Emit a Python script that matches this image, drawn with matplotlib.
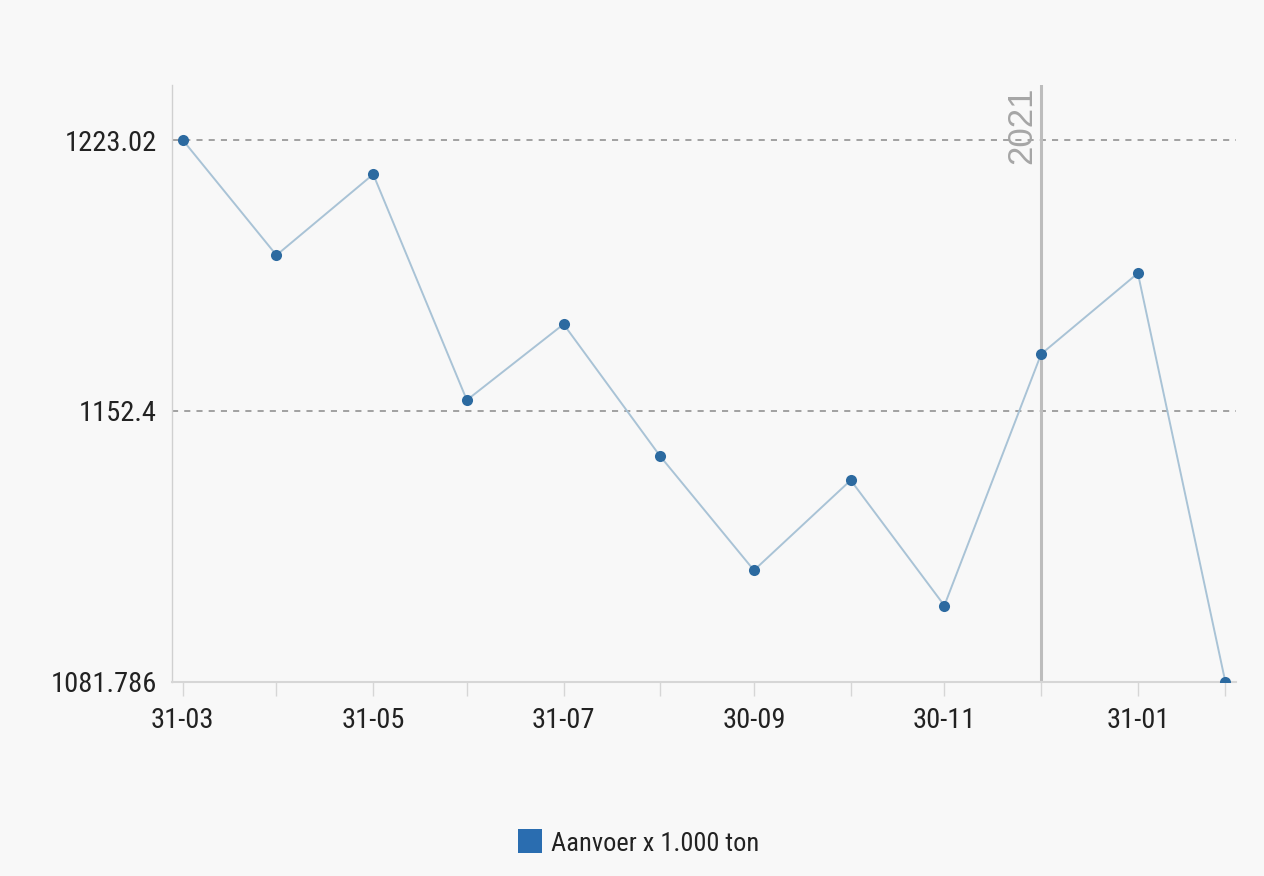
import datetime as dt

import matplotlib
matplotlib.use("Agg")
import matplotlib.pyplot as plt
from matplotlib.lines import Line2D
from matplotlib import font_manager

# data (Aanvoer x 1.000 ton, end of month)
DATES = [
    "2020-03-31", "2020-04-30", "2020-05-31", "2020-06-30",
    "2020-07-31", "2020-08-31", "2020-09-30", "2020-10-31",
    "2020-11-30", "2020-12-31", "2021-01-31", "2021-02-28",
]
VALUES = [1223.02, 1193.0, 1214.1, 1155.2, 1175.0, 1140.5,
          1110.8, 1134.3, 1101.6, 1167.2, 1188.3, 1081.786]
Y_TICKS = [1081.786, 1152.4, 1223.02]
Y_TICK_LABELS = ["1081.786", "1152.4", "1223.02"]
YEAR_MARK = "2020-12-31"
YEAR_LABEL = "2021"
SERIES_LABEL = "Aanvoer x 1.000 ton"

BG = "#f8f8f8"
LINE_COLOR = "#a9c3d6"
MARKER_COLOR = "#2c6aa0"


def pick_narrow_font():
    # the reference uses a narrow sans; use one if the machine has it
    wanted = ["Liberation Sans Narrow", "Arial Narrow", "Roboto Condensed",
              "Open Sans Condensed", "Noto Sans Condensed"]
    fonts = font_manager.fontManager.ttflist
    for name in wanted:
        for f in fonts:
            if f.name == name and f.weight in (400, "normal", "regular") and f.style == "normal":
                return f.name
    return None


narrow = pick_narrow_font()
if narrow:
    plt.rcParams["font.family"] = [narrow, "DejaVu Sans"]
    tick_size, legend_size = 20.5, 19
else:
    plt.rcParams["font.family"] = ["Liberation Sans", "DejaVu Sans"]
    tick_size, legend_size = 18.5, 17.5

dates = [dt.datetime.strptime(d, "%Y-%m-%d") for d in DATES]

fig = plt.figure(figsize=(12.64, 8.76), dpi=100, facecolor=BG)
ax = fig.add_axes([0.136, 0.222, 0.842, 0.681], facecolor=BG)

ax.plot(dates, VALUES, color=LINE_COLOR, linewidth=1.4, zorder=3)
ax.plot(dates, VALUES, linestyle="none", marker="o", markersize=8,
        color=MARKER_COLOR, markeredgewidth=0, zorder=4)

for y in Y_TICKS[1:]:
    ax.axhline(y, color="#8a8a8a", linewidth=1.1, linestyle=(0, (4, 4)), zorder=1)

mark = dt.datetime.strptime(YEAR_MARK, "%Y-%m-%d")
ax.axvline(mark, color="#bdbdbd", linewidth=2.2, zorder=2)
ax.text(mark - dt.timedelta(days=0.8), 1237.0, YEAR_LABEL, rotation=90,
        ha="right", va="top", fontsize=25, color="#a6a6a6",
        family=["Liberation Sans", "DejaVu Sans"])

ax.set_xlim(dates[0] - dt.timedelta(days=3.5), dates[-1] + dt.timedelta(days=3.5))
ax.set_ylim(Y_TICKS[0], 1237.4)

ax.set_yticks(Y_TICKS)
ax.set_yticklabels(Y_TICK_LABELS)
ax.tick_params(axis="y", length=0, pad=11, labelsize=tick_size, colors="#222222")

label_dates = dates[::2]
ax.set_xticks(label_dates)
ax.set_xticklabels([d.strftime("%d-%m") for d in label_dates])
ax.set_xticks(dates, minor=True)
ax.tick_params(axis="x", which="major", length=10, width=1, color="#d6d6d6",
               pad=8, labelsize=tick_size, labelcolor="#222222")
ax.tick_params(axis="x", which="minor", length=10, width=1, color="#d6d6d6")

for side in ("top", "right"):
    ax.spines[side].set_visible(False)
ax.spines["left"].set_color("#d0d0d0")
ax.spines["left"].set_linewidth(1)
ax.spines["bottom"].set_color("#d6d6d6")
ax.spines["bottom"].set_linewidth(1.5)

handle = Line2D([], [], linestyle="none", marker="s", markersize=17,
                color="#2a6db0", markeredgewidth=0)
fig.legend([handle], [SERIES_LABEL], loc="center", bbox_to_anchor=(0.505, 0.037),
           frameon=False, fontsize=legend_size, handletextpad=0.3, handlelength=1.0,
           labelcolor="#222222")

fig.savefig("out.png", dpi=100, facecolor=BG)
